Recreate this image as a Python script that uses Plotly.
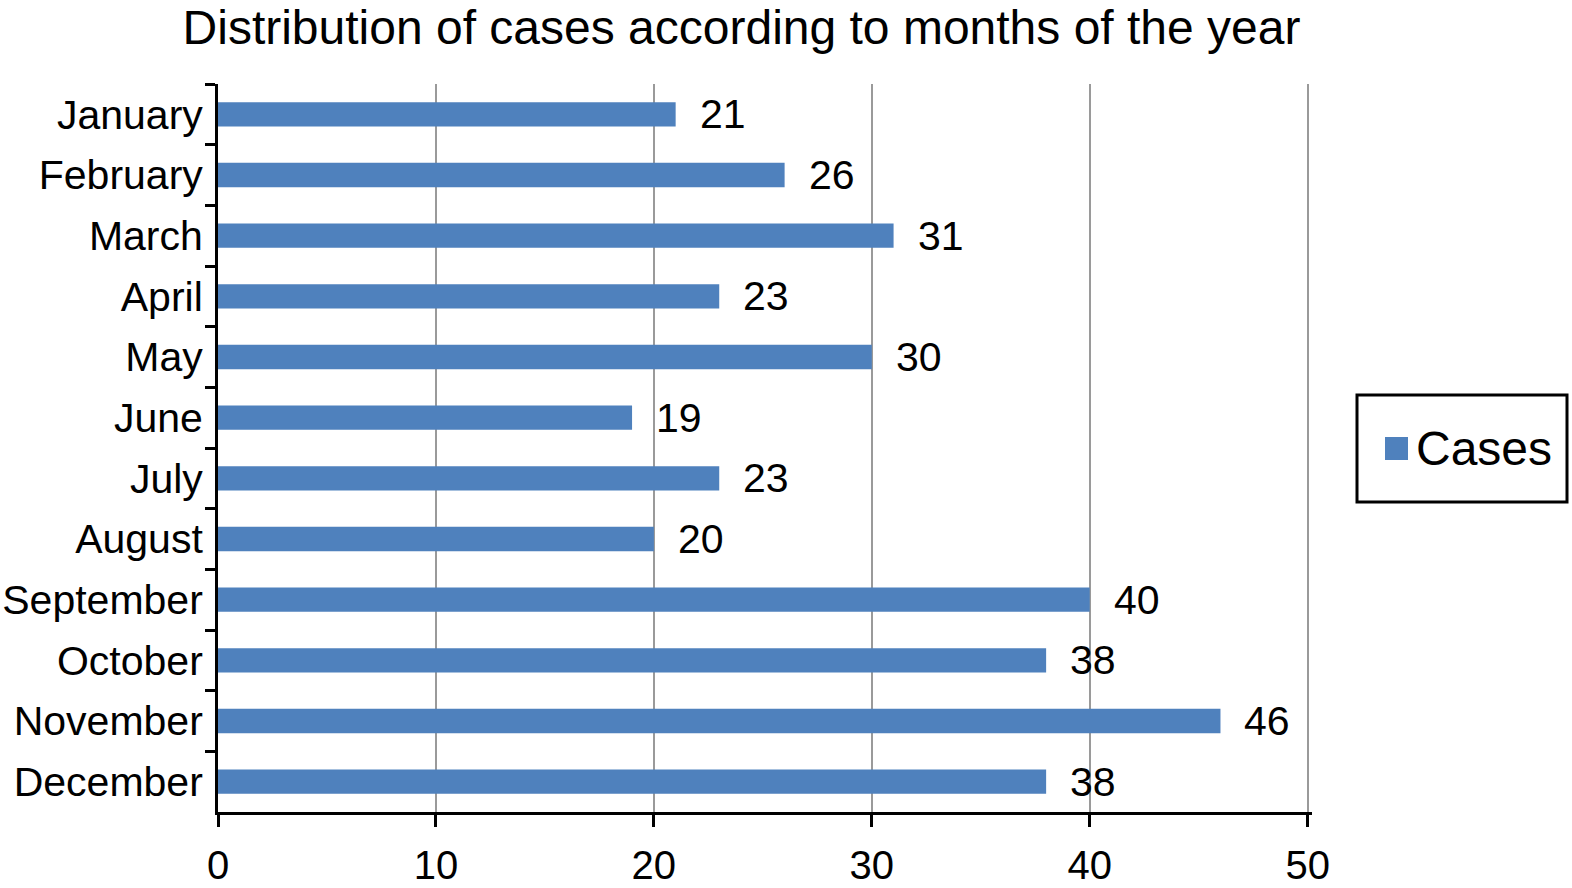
import plotly.graph_objects as go

months = ["January", "February", "March", "April", "May", "June", "July",
          "August", "September", "October", "November", "December"]
cases = [21, 26, 31, 23, 30, 19, 23, 20, 40, 38, 46, 38]
x_ticks = [0, 10, 20, 30, 40, 50]
series_name = "Cases"

BLUE = "#4F81BD"
FONT = "Liberation Sans, Arial, sans-serif"

W, H = 1572, 888
L, R, T, B = 218, 260, 84, 76
PW, PH = W - L - R, H - T - B


def px(fx):
    return (fx - L) / PW


def py(fy):
    return (H - B - fy) / PH


fig = go.Figure()
fig.add_trace(go.Bar(
    y=months, x=cases, orientation="h", name=series_name,
    marker=dict(color=BLUE, line=dict(width=0)),
    width=0.4, showlegend=False,
))

for m, v in zip(months, cases):
    fig.add_annotation(x=v, y=m, text=str(v), showarrow=False, xanchor="left",
                       xshift=22, font=dict(size=41, color="black", family=FONT))

# legend drawn manually (box, swatch, label)
fig.add_shape(type="rect", xref="paper", yref="paper",
              x0=px(1357), x1=px(1567), y0=py(502), y1=py(395),
              line=dict(color="black", width=3), fillcolor="white")
fig.add_shape(type="rect", xref="paper", yref="paper",
              x0=px(1385), x1=px(1408), y0=py(460), y1=py(437),
              line=dict(width=0), fillcolor=BLUE)
fig.add_annotation(xref="paper", yref="paper", x=px(1414), y=py(448),
                   xanchor="left", yanchor="middle", showarrow=False,
                   text=series_name, font=dict(size=48, color="black", family=FONT))

fig.update_layout(
    width=W, height=H,
    margin=dict(l=L, r=R, t=T, b=B, autoexpand=False),
    paper_bgcolor="white", plot_bgcolor="white",
    font=dict(family=FONT, color="black"),
    title=dict(text="Distribution of cases according to months of the year",
               x=741.5 / W, xanchor="center", y=1 - 27 / H, yanchor="middle",
               font=dict(size=48, color="black", family=FONT)),
    showlegend=False,
)
fig.update_xaxes(
    range=[0, 50.2], tickvals=x_ticks, ticktext=[str(t) for t in x_ticks],
    showgrid=True, gridcolor="#9A9A9A", gridwidth=2,
    showline=True, linecolor="black", linewidth=3,
    ticks="outside", ticklen=12, tickwidth=3, tickcolor="black",
    tickfont=dict(size=40, color="black", family=FONT), zeroline=False,
    ticklabelstandoff=4, automargin=False,
)
fig.update_yaxes(
    type="category", categoryorder="array", categoryarray=months,
    autorange="reversed", showgrid=False,
    showline=True, linecolor="black", linewidth=3,
    ticks="outside", tickson="boundaries", ticklen=10, tickwidth=3, tickcolor="black",
    tickfont=dict(size=41, color="black", family=FONT), ticklabelstandoff=4,
    automargin=False,
)

fig.write_html("out.html", config={"displayModeBar": False},
               post_script="document.body.style.margin='0';document.body.style.overflow='hidden';")
